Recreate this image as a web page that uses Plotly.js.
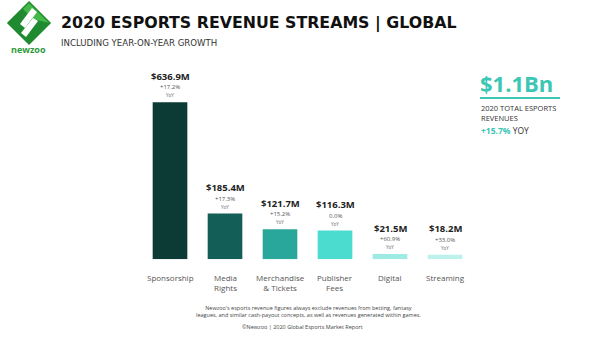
<!DOCTYPE html>
<html><head><meta charset="utf-8">
<script src="https://cdn.plot.ly/plotly-3.0.1.min.js"></script>
<style>html,body{margin:0;padding:0;background:#fff;}#chart{width:601px;height:357px;}</style>
</head><body><div id="chart"></div>
<script>
var categories = ["Sponsorship", "Media Rights", "Merchandise & Tickets", "Publisher Fees", "Digital", "Streaming"];
var tickLabels = ["Sponsorship", "Media<br>Rights", "Merchandise<br>& Tickets", "Publisher<br>Fees", "Digital", "Streaming"];
var revenues = [636.9, 185.4, 121.7, 116.3, 21.5, 18.2];
var valueLabels = ["$636.9M", "$185.4M", "$121.7M", "$116.3M", "$21.5M", "$18.2M"];
var growthLabels = ["+17.2%", "+17.3%", "+15.2%", "0.0%", "+60.9%", "+33.0%"];
var barColors = ["#0c3a34", "#135e57", "#2aa79b", "#4bdbcf", "#9eebe3", "#bdf1ec"];

var W = 601, H = 357;
function px(x){return x / W;}
function py(y){return 1 - y / H;}
var FONT = "Open Sans, Liberation Sans, sans-serif";
var WIDE = "DejaVu Sans, Open Sans, sans-serif";

var trace = {
  type: "bar", x: categories, y: revenues,
  marker: {color: barColors, line: {width: 0}},
  hoverinfo: "none"
};

var ann = [];
for (var i = 0; i < categories.length; i++) {
  ann.push({x: categories[i], y: revenues[i], xref: "x", yref: "y", text: "<b>" + valueLabels[i] + "</b>", borderpad: 0,
    showarrow: false, yanchor: "middle", yshift: 26, font: {family: FONT, size: 9.5, color: "#222"}});
  ann.push({x: categories[i], y: revenues[i], xref: "x", yref: "y", text: growthLabels[i], borderpad: 0,
    showarrow: false, yanchor: "middle", yshift: 15, font: {family: FONT, size: 6, color: "#555"}});
  ann.push({x: categories[i], y: revenues[i], xref: "x", yref: "y", text: "YoY", borderpad: 0,
    showarrow: false, yanchor: "middle", yshift: 7, font: {family: FONT, size: 4.5, color: "#666"}});
  ann.push({x: categories[i], y: py(270), xref: "x", yref: "paper", text: tickLabels[i],
    showarrow: false, yanchor: "top", font: {family: FONT, size: 8, color: "#555"}});
}
// titles
ann.push({x: px(59), y: py(23), xref: "paper", yref: "paper", xanchor: "left", yanchor: "middle", showarrow: false,
  text: "<b>2020 ESPORTS REVENUE STREAMS | GLOBAL</b>", font: {family: WIDE, size: 15.8, color: "#111"}});
ann.push({x: px(59), y: py(43), xref: "paper", yref: "paper", xanchor: "left", yanchor: "middle", showarrow: false,
  text: "INCLUDING YEAR-ON-YEAR GROWTH", font: {family: WIDE, size: 8.6, color: "#333"}});
// logo text
ann.push({x: px(28), y: py(50), xref: "paper", yref: "paper", xanchor: "center", yanchor: "middle", showarrow: false,
  text: "<b>newzoo</b>", font: {family: FONT, size: 9, color: "#2d9a3a"}});
// right box
ann.push({x: px(478), y: py(83), xref: "paper", yref: "paper", xanchor: "left", yanchor: "middle", showarrow: false,
  text: "<b>$1.1Bn</b>", font: {family: FONT, size: 22, color: "#3cc6b4"}});
ann.push({x: px(479), y: py(113), xref: "paper", yref: "paper", xanchor: "left", yanchor: "middle", showarrow: false, align: "left",
  text: "2020 TOTAL ESPORTS<br>REVENUES", font: {family: FONT, size: 7.5, color: "#333"}});
ann.push({x: px(479), y: py(130), xref: "paper", yref: "paper", xanchor: "left", yanchor: "middle", showarrow: false,
  text: "<b><span style='color:#3cc6b4'>+15.7%</span></b> YOY", font: {family: FONT, size: 8.5, color: "#333"}});
// footer
ann.push({x: px(308), y: py(311), xref: "paper", yref: "paper", xanchor: "center", yanchor: "middle", showarrow: false,
  text: "Newzoo's esports revenue figures always exclude revenues from betting, fantasy<br>leagues, and similar cash-payout concepts, as well as revenues generated within games.",
  font: {family: FONT, size: 5.5, color: "#444"}});
ann.push({x: px(302), y: py(327), xref: "paper", yref: "paper", xanchor: "center", yanchor: "middle", showarrow: false,
  text: "©Newzoo | 2020 Global Esports Market Report", font: {family: FONT, size: 5.5, color: "#444"}});

function path(pts){
  var s = "";
  for (var k = 0; k < pts.length; k++) s += (k ? " L" : "M") + px(pts[k][0]).toFixed(4) + "," + py(pts[k][1]).toFixed(4);
  return s + " Z";
}
var cx = 29, cy = 23, r = 20;
var shapes = [
  {type: "path", xref: "paper", yref: "paper", path: path([[cx, cy - r], [cx + r, cy], [cx, cy + r], [cx - r, cy]]), fillcolor: "#1f8a2f", line: {color: "#1f8a2f", width: 3}, layer: "above"},
  {type: "path", xref: "paper", yref: "paper", path: path([[cx, cy - r], [cx + r, cy], [cx + 4, cy - 4], [cx - 6, cy - 14]]), fillcolor: "#45b84a", line: {width: 0}, layer: "above"},
  {type: "path", xref: "paper", yref: "paper", path: path([[cx + 3, cy - 15], [cx + 8, cy - 11], [cx - 4, cy + 5], [cx - 9, cy + 1]]), fillcolor: "#ffffff", line: {width: 0}, layer: "above"},
  {type: "path", xref: "paper", yref: "paper", path: path([[cx + 9, cy - 2], [cx + 4, cy - 5], [cx - 8, cy + 10], [cx - 3, cy + 14]]), fillcolor: "#ffffff", line: {width: 0}, layer: "above"},
  {type: "line", xref: "paper", yref: "paper", x0: px(480), x1: px(560), y0: py(98), y1: py(98), line: {color: "#3cc6b4", width: 2}}
];

var layout = {
  width: W, height: H, margin: {l: 0, r: 0, t: 0, b: 0},
  paper_bgcolor: "#fff", plot_bgcolor: "#fff",
  showlegend: false, bargap: 0.37,
  xaxis: {domain: [px(142.5), px(472.5)], range: [-0.5, 5.5], type: "category", showticklabels: false, showgrid: false, zeroline: false, showline: false, fixedrange: true},
  yaxis: {domain: [py(259.3), py(86.7)], range: [0, 700], showticklabels: false, showgrid: false, zeroline: false, showline: false, fixedrange: true},
  annotations: ann, shapes: shapes
};
Plotly.newPlot("chart", [trace], layout, {staticPlot: true, displayModeBar: false});
</script></body></html>
